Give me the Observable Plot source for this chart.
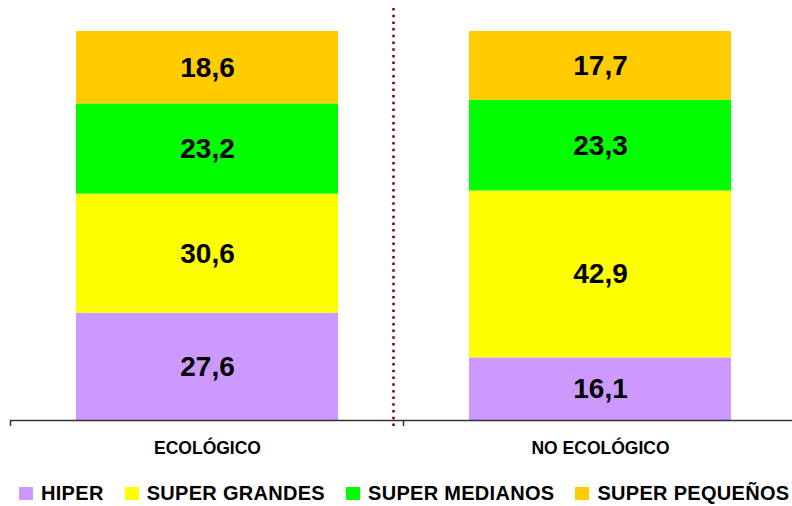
<!DOCTYPE html>
<html>
<head>
<meta charset="utf-8">
<script src="https://cdn.jsdelivr.net/npm/d3@7"></script>
<script src="https://cdn.jsdelivr.net/npm/@observablehq/plot@0.6"></script>
<style>
  body { margin: 0; background: #fff; font-family: Arial, "Liberation Sans", sans-serif; }
  #chart { width: 792px; height: 506px; overflow: hidden; }
  .legend { display: flex; justify-content: flex-start; align-items: center; gap: 21px; white-space: nowrap;
            font-size: 20px; letter-spacing: 0.3px; font-weight: bold; line-height: 20px; padding-top: 17px; padding-left: 19px; color: #000; }
  .legend .item { display: flex; align-items: center; }
  .legend .sw { width: 14px; height: 13px; margin-right: 8px; display: inline-block; }
</style>
</head>
<body>
<div id="chart"></div>
<script>
const categories = ["ECOLÓGICO", "NO ECOLÓGICO"];
const series = ["HIPER", "SUPER GRANDES", "SUPER MEDIANOS", "SUPER PEQUEÑOS"];
const colors = ["#CC99FF", "#FFFF00", "#00FF00", "#FFCC00"];
const ecologico = [27.6, 30.6, 23.2, 18.6];
const noEcologico = [16.1, 42.9, 23.3, 17.7];

const values = [ecologico, noEcologico];
const data = [];
categories.forEach((c, i) => series.forEach((s, j) => data.push({cat: c, series: s, value: values[i][j]})));
const fmt = v => d3.format(".1f")(v).replace(".", ",");

const chart = Plot.plot({
  width: 792,
  height: 466,
  marginTop: 31,
  marginBottom: 46,
  marginLeft: 10,
  marginRight: 0,
  style: {fontFamily: 'Arial, "Liberation Sans", sans-serif', fontSize: "17.5px", fontWeight: "bold", color: "#000", background: "#fff"},
  x: {domain: categories, range: [10, 796], paddingInner: 1/3, paddingOuter: 1/6, tickSize: 0, tickPadding: 21, label: null},
  y: {domain: [0, 100], axis: null},
  color: {domain: series, range: colors},
  marks: [
    Plot.barY(data, {x: "cat", y: "value", fill: "series", order: series}),
    Plot.text(data, Plot.stackY({x: "cat", y: "value", z: "series", order: series, text: d => fmt(d.value), fontSize: 28, fontWeight: "bold", fill: "#000"})),
    Plot.ruleY([0], {stroke: "#333", strokeWidth: 1.5})
  ]
});

// ticks at category boundaries and dotted separator, positioned from the scales
const sx = chart.scale("x"), sy = chart.scale("y");
const step = sx.step, bw = sx.bandwidth;
const half = (step - bw) / 2;
const y0 = sy.apply(0), yTop = sy.apply(100);
const bounds = categories.map(c => sx.apply(c) - half);
bounds.push(sx.apply(categories[categories.length - 1]) + bw + half);
const g = d3.select(chart).append("g");
g.selectAll("line.tick").data(bounds).join("line")
  .attr("x1", d => d).attr("x2", d => d).attr("y1", y0).attr("y2", y0 + 6)
  .attr("stroke", "#333").attr("stroke-width", 1.5);
const sep = bounds[1] - 10;
g.append("line").attr("x1", sep).attr("x2", sep).attr("y1", yTop - 23).attr("y2", y0 + 10)
  .attr("stroke", "#800000").attr("stroke-width", 2.5).attr("stroke-dasharray", "2.5 4.2");

const root = document.getElementById("chart");
root.appendChild(chart);
const legend = document.createElement("div");
legend.className = "legend";
series.forEach((s, i) => {
  const it = document.createElement("span"); it.className = "item";
  const sw = document.createElement("span"); sw.className = "sw"; sw.style.background = colors[i];
  it.appendChild(sw); it.appendChild(document.createTextNode(s));
  legend.appendChild(it);
});
root.appendChild(legend);
</script>
</body>
</html>
